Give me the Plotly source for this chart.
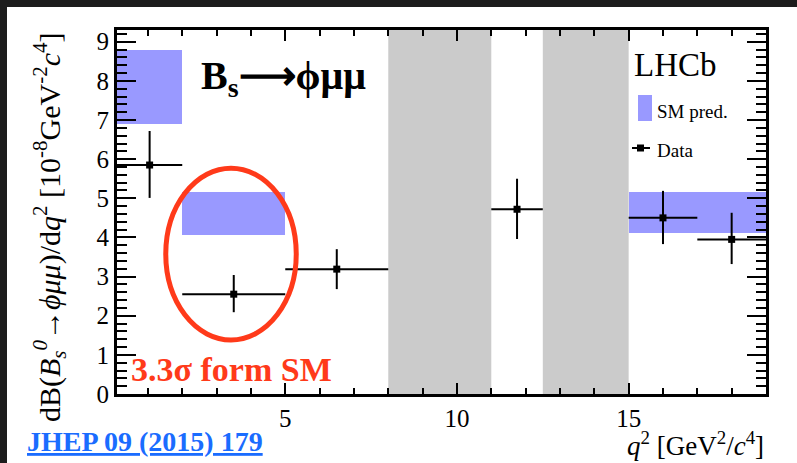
import plotly.graph_objects as go

# Measured differential branching fraction of Bs -> phi mu mu in q^2 bins
bin_lo = [0.1, 2.0, 5.0, 11.0, 15.0, 17.0]
bin_hi = [2.0, 5.0, 8.0, 12.5, 17.0, 19.0]
data_val = [5.85, 2.55, 3.19, 4.72, 4.50, 3.95]
err_up = [0.87, 0.49, 0.51, 0.78, 0.69, 0.68]
err_dn = [0.84, 0.46, 0.51, 0.76, 0.67, 0.63]

# Standard Model prediction bands
sm_lo_edge = [0.1, 2.0, 15.0]
sm_hi_edge = [2.0, 5.0, 19.0]
sm_low = [6.91, 4.05, 4.12]
sm_high = [8.80, 5.16, 5.16]

# Vetoed charmonium regions
veto_regions = [(8.0, 11.0), (12.5, 15.0)]

x_ticks = [5, 10, 15]
y_ticks = [0, 1, 2, 3, 4, 5, 6, 7, 8, 9]

W, H = 797, 463
L, R, T, B = 117, 766, 30, 394
FONT = "Liberation Serif"
SM_COLOR = "#9999ff"
RED = "#ff3a1a"


def px(x):
    return (x - L) / (R - L)


def py(y):
    return (B - y) / (B - T)


centers = [(a + b) / 2 for a, b in zip(bin_lo, bin_hi)]
half_w = [(b - a) / 2 for a, b in zip(bin_lo, bin_hi)]

fig = go.Figure()

fig.add_trace(go.Bar(
    x=[(a + b) / 2 for a, b in zip(sm_lo_edge, sm_hi_edge)],
    y=[h - l for l, h in zip(sm_low, sm_high)],
    base=sm_low,
    width=[b - a for a, b in zip(sm_lo_edge, sm_hi_edge)],
    marker=dict(color=SM_COLOR, line=dict(width=0)),
    showlegend=False,
    hoverinfo="skip",
))

fig.add_trace(go.Scatter(
    x=centers,
    y=data_val,
    mode="markers",
    marker=dict(symbol="square", size=7, color="black"),
    error_x=dict(type="data", array=half_w, symmetric=True,
                 color="black", thickness=2, width=0),
    error_y=dict(type="data", array=err_up, arrayminus=err_dn,
                 symmetric=False, color="black", thickness=2, width=0),
    showlegend=False,
))

shapes = []
for a, b in veto_regions:
    shapes.append(dict(type="rect", xref="x", yref="y domain", x0=a, x1=b,
                       y0=0, y1=1, fillcolor="#cbcbcb",
                       line=dict(width=0), layer="below"))

# hand-drawn style highlight around the 2-5 GeV^2 bin
shapes.append(dict(type="circle", xref="x", yref="y", x0=1.52, x1=5.32,
                   y0=1.38, y1=5.77, line=dict(color=RED, width=5)))

# legend icons
shapes.append(dict(type="rect", xref="paper", yref="paper",
                   x0=px(638), x1=px(652), y0=py(121), y1=py(95),
                   fillcolor=SM_COLOR, line=dict(width=0)))
shapes.append(dict(type="line", xref="paper", yref="paper",
                   x0=px(632), x1=px(650), y0=py(148), y1=py(148),
                   line=dict(color="black", width=2)))
shapes.append(dict(type="rect", xref="paper", yref="paper",
                   x0=px(637), x1=px(644), y0=py(151.5), y1=py(144.5),
                   fillcolor="black", line=dict(width=0)))

# dark frame around the page
shapes.append(dict(type="rect", xref="paper", yref="paper",
                   x0=px(0), x1=px(W), y0=py(7), y1=py(0),
                   fillcolor="#1c1c1c", line=dict(width=0)))
shapes.append(dict(type="rect", xref="paper", yref="paper",
                   x0=px(0), x1=px(7), y0=py(H), y1=py(0),
                   fillcolor="#1c1c1c", line=dict(width=0)))

annotations = [
    dict(text="<b>B<sub>s</sub>⟶ϕμμ</b>", x=px(199), y=py(78),
         xanchor="left", yanchor="middle",
         font=dict(family=FONT, size=40, color="black")),
    dict(text="LHCb", x=px(675), y=py(65), xanchor="center", yanchor="middle",
         font=dict(family=FONT, size=33, color="black")),
    dict(text="SM pred.", x=px(655), y=py(111), xanchor="left", yanchor="middle",
         font=dict(family=FONT, size=19, color="black")),
    dict(text="Data", x=px(655), y=py(150), xanchor="left", yanchor="middle",
         font=dict(family=FONT, size=19, color="black")),
    dict(text="<b>3.3σ form SM</b>", x=px(129), y=py(369),
         xanchor="left", yanchor="middle",
         font=dict(family=FONT, size=34, color=RED)),
    dict(text="<b><u>JHEP 09 (2015) 179</u></b>", x=px(25), y=py(441),
         xanchor="left", yanchor="middle",
         font=dict(family=FONT, size=28, color="#1a6cff")),
    dict(text="<i>q</i><sup>2</sup> [GeV<sup>2</sup>/<i>c</i><sup>4</sup>]",
         x=px(766), y=py(463), xanchor="right", yanchor="bottom",
         font=dict(family=FONT, size=27, color="black")),
    dict(text="dB(<i>B</i><sub><i>s</i></sub><sup><i>0</i></sup>→<i>ϕμμ</i>)/d<i>q</i>"
              "<sup>2</sup> [10<sup>-8</sup>GeV<sup>-2</sup><i>c</i><sup>4</sup>]",
         x=px(49), y=py(228), xanchor="center", yanchor="middle",
         textangle=-90,
         font=dict(family=FONT, size=30, color="black")),
]
for a in annotations:
    a.update(xref="paper", yref="paper", showarrow=False)

fig.update_layout(
    width=W, height=H,
    margin=dict(l=L, r=W - R, t=T, b=H - B, autoexpand=False),
    paper_bgcolor="white",
    plot_bgcolor="white",
    bargap=0,
    shapes=shapes,
    annotations=annotations,
    xaxis=dict(
        range=[0.1, 19], tickmode="array", tickvals=x_ticks,
        ticks="inside", ticklen=11, tickwidth=2, tickcolor="black",
        minor=dict(dtick=1, tick0=0, ticks="inside", ticklen=6,
                   tickwidth=2, tickcolor="black"),
        showline=True, linecolor="black", linewidth=3, mirror="ticks",
        showgrid=False, zeroline=False,
        tickfont=dict(family=FONT, size=25, color="black"),
    ),
    yaxis=dict(
        range=[0, 9.3], tickmode="array", tickvals=y_ticks,
        ticks="inside", ticklen=19, tickwidth=2, tickcolor="black",
        minor=dict(dtick=0.2, tick0=0, ticks="inside", ticklen=10,
                   tickwidth=2, tickcolor="black"),
        showline=True, linecolor="black", linewidth=3, mirror="ticks",
        showgrid=False, zeroline=False,
        tickfont=dict(family=FONT, size=25, color="black"),
    ),
)

fig.write_html("out.html")
